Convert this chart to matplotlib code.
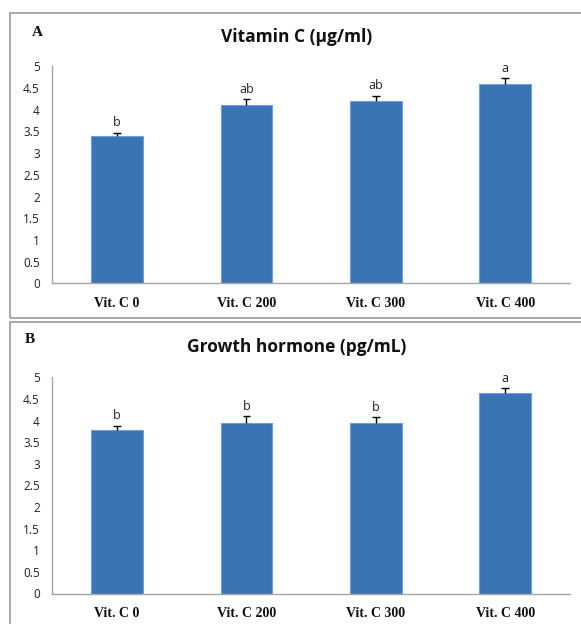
import matplotlib
matplotlib.use("Agg")
import matplotlib.pyplot as plt
from matplotlib.patches import Rectangle

categories = ["Vit. C 0", "Vit. C 200", "Vit. C 300", "Vit. C 400"]
vitc_values = [3.39, 4.10, 4.21, 4.60]
vitc_err = [0.08, 0.14, 0.11, 0.12]
vitc_letters = ["b", "ab", "ab", "a"]
gh_values = [3.79, 3.95, 3.95, 4.63]
gh_err = [0.09, 0.15, 0.13, 0.12]
gh_letters = ["b", "b", "b", "a"]
yticks = [0, 0.5, 1, 1.5, 2, 2.5, 3, 3.5, 4, 4.5, 5]
ytick_labels = ["0", "0.5", "1", "1.5", "2", "2.5", "3", "3.5", "4", "4.5", "5"]

W, H = 581, 624
fig = plt.figure(figsize=(W / 100, H / 100), dpi=100)

BAR = "#3a74b4"
EDGE = "#6f9fd6"
AXC = "#a6a6a6"


def fx(px):
    return px / W


def fy(py):
    return 1 - py / H


# panel frames
fig.patches.append(Rectangle((fx(10.3), fy(317.7)), fx(600) - fx(10.3), fy(12.7) - fy(317.7),
                             transform=fig.transFigure, fill=False, edgecolor="#9a9a9a", lw=1.2))
fig.patches.append(Rectangle((fx(10.3), fy(640)), fx(600) - fx(10.3), fy(322.3) - fy(640),
                             transform=fig.transFigure, fill=False, edgecolor="#9a9a9a", lw=1.2))

panels = [
    dict(top=66.3, bottom=283.3, vals=vitc_values, err=vitc_err, let=vitc_letters,
         title="Vitamin C (µg/ml)", ty=36.7, tag="A", tagx=37, tagy=32),
    dict(top=377.3, bottom=593.5, vals=gh_values, err=gh_err, let=gh_letters,
         title="Growth hormone (pg/mL)", ty=346.7, tag="B", tagx=30, tagy=340),
]

for p in panels:
    ax = fig.add_axes([fx(52.3), fy(p["bottom"]), fx(570) - fx(52.3), fy(p["top"]) - fy(p["bottom"])])
    x = list(range(len(categories)))
    ax.bar(x, p["vals"], width=0.4, color=BAR, edgecolor=EDGE, linewidth=0.8, zorder=2)
    tops = [v + e for v, e in zip(p["vals"], p["err"])]
    ax.vlines(x, p["vals"], tops, color="black", lw=1, zorder=3)
    ax.hlines(tops, [xi - 0.03 for xi in x], [xi + 0.03 for xi in x], color="black", lw=1, zorder=3)
    for xi, t, l in zip(x, tops, p["let"]):
        ax.annotate(l, (xi, t), xytext=(0, 2.5), textcoords="offset points",
                    ha="center", va="bottom", fontsize=9, family="Open Sans", color="#222222")
    ax.set_xlim(-0.5, len(categories) - 0.5)
    ax.set_ylim(0, 5)
    ax.set_yticks(yticks)
    ax.set_yticklabels(ytick_labels, family="Open Sans", fontsize=8.5, color="#222222")
    ax.set_xticks(x)
    ax.set_xticklabels(categories, family="Liberation Serif", fontweight="bold", fontsize=10, color="#111111")
    ax.tick_params(axis="y", length=0, pad=9)
    ax.tick_params(axis="x", length=0, pad=10)
    for s in ["top", "right"]:
        ax.spines[s].set_visible(False)
    for s in ["left", "bottom"]:
        ax.spines[s].set_color(AXC)
        ax.spines[s].set_linewidth(1.0)
    ax.patch.set_alpha(0)
    fig.text(fx(297), fy(p["ty"]), p["title"], ha="center", va="center", fontsize=12.5,
             fontweight="bold", family="Open Sans", color="#111111")
    fig.text(fx(p["tagx"]), fy(p["tagy"]), p["tag"], ha="center", va="center", fontsize=11,
             fontweight="bold", family="Liberation Serif", color="#111111")

fig.savefig("out.png", dpi=100)
